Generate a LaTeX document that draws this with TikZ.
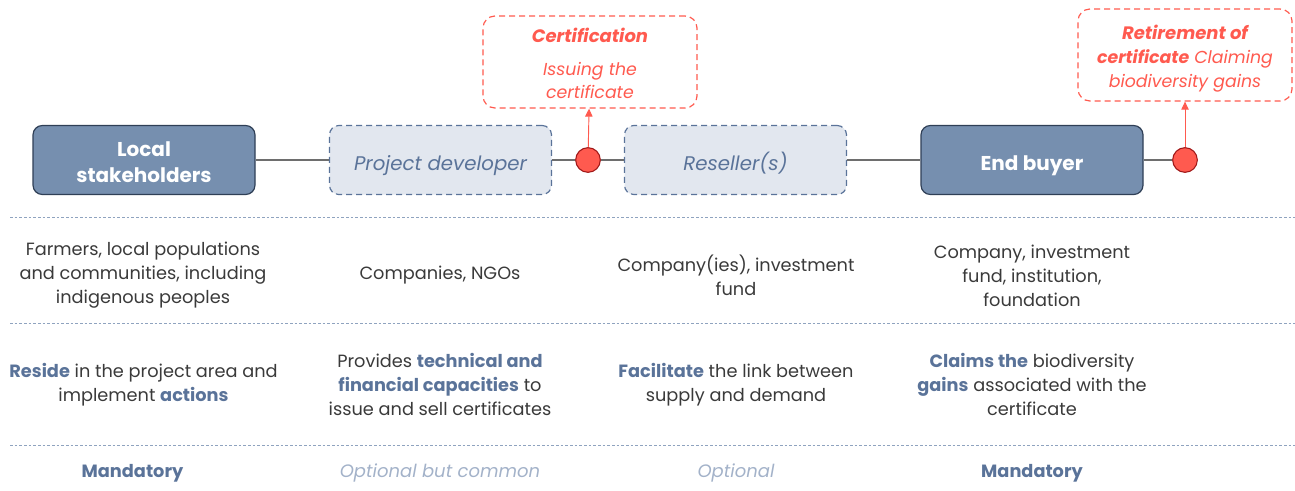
\documentclass[tikz,border=0pt]{standalone}
\usepackage{fontspec}
\setmainfont{Poppins}
\usetikzlibrary{arrows.meta}
\definecolor{actorfill}{HTML}{768FAF}
\definecolor{actordraw}{HTML}{2F3F56}
\definecolor{optfill}{HTML}{E2E7EF}
\definecolor{optdraw}{HTML}{5A7399}
\definecolor{accent}{HTML}{5A7399}
\definecolor{redc}{HTML}{FF5A4F}
\definecolor{reddark}{HTML}{A01818}
\definecolor{sepc}{HTML}{8FA3BF}
\definecolor{bodytext}{HTML}{3A3A3A}
\definecolor{lighttext}{HTML}{A3B2C9}
\definecolor{linkc}{HTML}{6E6E6E}
\tikzset{
  actor/.style={rectangle, rounded corners=7pt, draw=actordraw, fill=actorfill, line width=0.9pt,
    minimum width=166.5pt, minimum height=51.75pt, text=white, align=center,
    font=\bfseries\fontsize{15}{19.5}\selectfont},
  oneline/.style={text height=15pt, text depth=0pt},
  optactor/.style={rectangle, rounded corners=7pt, draw=optdraw, fill=optfill, line width=0.9pt,
    dash pattern=on 4.5pt off 3pt, minimum width=166.5pt, minimum height=51.75pt, text=optdraw,
    align=center, font=\itshape\fontsize{14.8}{18}\selectfont},
  event/.style={circle, draw=reddark, fill=redc, line width=0.8pt, minimum size=18.5pt, inner sep=0pt},
  callout/.style={rectangle, rounded corners=9pt, draw=redc, line width=0.9pt,
    dash pattern=on 4.5pt off 3pt, minimum width=160.5pt, minimum height=69pt, text=redc,
    align=center, font=\itshape\fontsize{13}{17.5}\selectfont},
  link/.style={draw=linkc, line width=0.8pt},
  up/.style={draw=redc, line width=0.7pt, -{Triangle[length=6pt,width=5.5pt]}},
  sep/.style={draw=sepc, line width=0.6pt, dash pattern=on 2pt off 1.5pt},
  cell/.style={align=center, text=bodytext, font=\fontsize{13.3}{18}\selectfont, inner sep=0pt},
  must/.style={text=accent, font=\bfseries\fontsize{13.3}{18}\selectfont, inner sep=0pt},
  maybe/.style={text=lighttext, font=\itshape\fontsize{13.5}{18}\selectfont, inner sep=0pt},
}
\newcommand{\hl}[1]{\textcolor{accent}{\textbf{#1}}}
\begin{document}
\begin{tikzpicture}[x=0.75pt,y=-0.75pt]
\useasboundingbox (0,0) rectangle (1295,490);
% actors
\node[actor] (local) at (144,160) {\rule{0pt}{14pt}Local\\stakeholders};
\node[optactor, oneline] (dev) at (440.5,160) {Project developer};
\node[event] (e1) at (588,160) {};
\node[optactor, oneline] (res) at (735.5,160) {Reseller(s)};
\node[actor, oneline] (buyer) at (1032,160) {End buyer};
\node[event] (e2) at (1185,160) {};
% links
\draw[link] (local) -- (dev);
\draw[link] (dev) -- (e1);
\draw[link] (e1) -- (res);
\draw[link] (res) -- (buyer);
\draw[link] (buyer) -- (e2);
% callouts
\node[callout] (cert) at (590,62) {\rule{0pt}{13pt}\textbf{\fontsize{13.5}{17.5}\selectfont Certification}\\[7.5pt]Issuing the\\certificate};
\node[callout] (ret) at (1185,55) {\rule{0pt}{16pt}\textbf{\fontsize{13.5}{18}\selectfont Retirement of}\\[0.5pt]\textbf{certificate} Claiming\\[0.5pt]biodiversity gains};
\draw[up] (e1) -- (cert);
\draw[up] (e2) -- (ret);
% separators
\coordinate (s1a) at (10,217); \coordinate (s1b) at (1295,217);
\coordinate (s2a) at (10,323); \coordinate (s2b) at (1295,323);
\coordinate (s3a) at (10,445); \coordinate (s3b) at (1295,445);
\draw[sep] (s1a) -- (s1b);
\draw[sep] (s2a) -- (s2b);
\draw[sep] (s3a) -- (s3b);
% row 1
\node[cell] (r1c1) at (143,275.5) {Farmers, local populations\\and communities, including\\indigenous peoples};
\node[cell] (r1c2) at (440,275.5) {Companies, NGOs};
\node[cell] (r1c3) at (736,275.5) {Company(ies), investment\\fund};
\node[cell] (r1c4) at (1032,275.5) {Company, investment\\fund, institution,\\foundation};
% row 2
\node[cell] (r2c1) at (143.5,384.5) {\hl{Reside} in the project area and\\implement \hl{actions}};
\node[cell] (r2c2) at (440,384.5) {Provides \hl{technical and}\\\hl{financial capacities} to\\issue and sell certificates};
\node[cell] (r2c3) at (736,384.5) {\hl{Facilitate} the link between\\supply and demand};
\node[cell] (r2c4) at (1032,384.5) {\hl{Claims the} biodiversity\\\hl{gains} associated with the\\certificate};
% row 3
\node[must] (r3c1) at (132.5,473) {Mandatory};
\node[maybe] (r3c2) at (440,473) {Optional but common};
\node[maybe] (r3c3) at (736,473) {Optional};
\node[must] (r3c4) at (1032,473) {Mandatory};
\end{tikzpicture}
\end{document}
